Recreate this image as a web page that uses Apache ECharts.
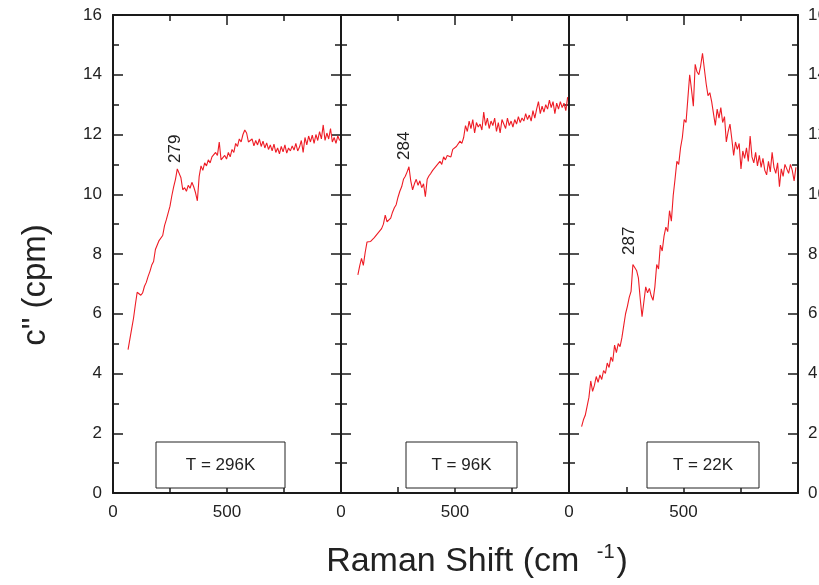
<!DOCTYPE html>
<html><head><meta charset="utf-8">
<script src="https://cdn.jsdelivr.net/npm/echarts@6/dist/echarts.min.js"></script>
<style>html,body{margin:0;padding:0;background:#fff}#c{width:819px;height:585px}</style>
</head><body><div id="c"></div>
<script>
// ---- data ----
const panelTitles = ['T = 296K', 'T = 96K', 'T = 22K'];

const x296Start = 66, x296Step = 8;
const y296 = [
  4.80,5.15,5.50,5.85,6.30,6.72,6.68,6.62,6.70,6.92,
  7.05,7.25,7.42,7.63,7.75,8.15,8.10,8.45,8.40,8.62,
  8.95,9.15,9.20,9.60,9.95,10.25,10.50,10.85,10.88,10.55,
  10.15,10.22,10.10,10.30,10.20,10.40,10.25,10.05,9.78,10.60,
  10.95,10.80,11.05,10.95,11.15,11.05,11.25,11.20,11.40,11.30,
  11.75,11.15,11.20,11.30,11.18,11.40,11.25,11.50,11.40,11.70,
  11.60,11.85,11.75,12.00,12.15,12.05,11.75,11.70,11.85,11.62,
  11.80,11.65,11.85,11.60,11.78,11.55,11.72,11.50,11.65,11.45,
  11.68,11.40,11.55,11.35,11.60,11.42,11.65,11.38,11.55,11.45,
  11.62,11.48,11.70,11.45,11.58,11.80,11.40,11.90,11.65,11.95,
  11.75,11.98,11.70,12.00,11.80,12.10,11.85,12.32,11.80,12.05,
  11.85,12.20,11.75,11.90,11.70,11.95,11.80
];

const x96Start = 74, x96Step = 8;
const y96 = [
  7.30,7.60,7.85,7.62,8.05,8.40,8.38,8.42,8.45,8.55,
  8.52,8.70,8.65,8.85,9.00,9.30,9.08,9.12,9.20,9.40,
  9.55,9.65,9.90,10.10,10.25,10.50,10.60,10.75,10.92,10.45,
  10.15,10.35,10.50,10.30,10.45,10.22,10.35,9.92,10.50,10.62,
  10.70,10.80,10.75,10.95,10.90,11.10,11.00,11.25,11.15,11.30,
  11.35,11.25,11.50,11.45,11.60,11.55,11.78,11.70,11.90,12.30,
  12.10,12.45,12.20,12.50,12.05,12.40,12.25,12.35,12.15,12.75,
  12.30,12.55,12.20,12.45,12.30,12.55,12.10,12.40,12.05,12.50,
  12.35,12.20,12.55,12.30,12.45,12.25,12.50,12.35,12.60,12.40,
  12.55,12.45,12.70,12.50,12.65,12.45,12.80,12.55,12.85,13.10,
  12.70,12.95,12.75,13.00,12.85,13.15,12.90,13.10,12.70,13.05,
  12.85,13.10,12.90,13.05,12.80,13.25
];

const x22Start = 55, x22Step = 8;
const y22 = [
  2.22,2.45,2.60,2.90,3.20,3.75,3.40,3.60,3.90,3.70,
  3.95,3.80,4.10,4.00,4.35,4.20,4.55,4.40,4.95,4.70,
  5.00,4.90,5.20,5.60,6.00,6.25,6.55,6.75,7.65,7.70,
  7.45,7.20,6.50,5.90,6.40,6.90,6.70,6.85,6.60,6.45,
  6.90,7.65,7.50,8.30,8.10,8.60,8.90,8.75,9.45,9.10,
  9.95,10.50,11.10,11.00,11.55,11.90,12.50,12.40,13.20,14.00,
  13.50,12.95,14.35,14.10,14.00,14.30,14.72,14.20,13.70,13.30,
  13.40,13.10,12.70,12.30,12.85,12.55,12.90,12.40,12.60,11.75,
  12.10,12.35,11.85,11.30,11.75,11.50,11.70,10.85,11.45,11.20,
  11.55,11.10,11.95,11.25,11.05,11.40,10.95,11.30,10.90,11.20,
  10.80,10.65,11.10,10.75,11.40,10.90,10.70,11.05,10.25,10.85,
  10.60,11.00,11.05,10.70,11.00,10.80,10.45,10.90
];

const peakLabels = ['279', '284', '287'];
const peakX = [272, 278, 263];
const peakY = [11.05, 11.15, 7.97];

const xTickLabels = [0, 500];
const yTickLabels = [0, 2, 4, 6, 8, 10, 12, 14, 16];

// ---- layout ----
const FONT = 'Liberation Sans, Arial, Helvetica, sans-serif';
const AX = '#1a1a1a';
const RED = '#ee1c25';
const grids = [
  {left: 113, width: 228},
  {left: 341, width: 228},
  {left: 569, width: 229}
];
const TOP = 15, HEIGHT = 478;
const boxes = [[156, 285], [406, 517], [647, 759]];

const seriesY = [y296, y96, y22];
const seriesStart = [x296Start, x96Start, x22Start];
const seriesStep = [x296Step, x96Step, x22Step];

const chart = echarts.init(document.getElementById('c'), null, {renderer: 'canvas'});

const xAxes = [], yAxes = [], series = [];
grids.forEach((g, i) => {
  const common = {
    gridIndex: i, type: 'value', min: 0, max: 1000, interval: 500,
    axisLine: {show: true, onZero: false, lineStyle: {color: AX, width: 2}},
    axisTick: {show: true, inside: true, length: 10, lineStyle: {color: AX, width: 1.5}},
    minorTick: {show: true, splitNumber: 2, length: 6, lineStyle: {color: AX, width: 1.5}},
    splitLine: {show: false}
  };
  xAxes.push(Object.assign({}, common, {
    position: 'bottom',
    axisLabel: {show: true, fontSize: 17, fontFamily: FONT, color: '#222', margin: 11,
      formatter: v => xTickLabels.indexOf(v) >= 0 ? String(v) : ''}
  }));
  xAxes.push(Object.assign({}, common, {position: 'top', axisLabel: {show: false}}));
  const ycommon = {
    gridIndex: i, type: 'value', min: 0, max: 16, interval: 2,
    axisLine: {show: true, onZero: false, lineStyle: {color: AX, width: 2}},
    axisTick: {show: true, inside: true, length: 10, lineStyle: {color: AX, width: 1.5}},
    minorTick: {show: true, splitNumber: 2, length: 6, lineStyle: {color: AX, width: 1.5}},
    splitLine: {show: false}
  };
  yAxes.push(Object.assign({}, ycommon, {
    position: 'left',
    axisLabel: {show: i === 0, fontSize: 17, fontFamily: FONT, color: '#222', margin: 11,
      formatter: v => yTickLabels.indexOf(v) >= 0 ? String(v) : ''}
  }));
  yAxes.push(Object.assign({}, ycommon, {
    position: 'right',
    axisLabel: {show: i === 2, fontSize: 17, fontFamily: FONT, color: '#222', margin: 10,
      formatter: v => yTickLabels.indexOf(v) >= 0 ? String(v) : ''}
  }));
  series.push({
    type: 'line', xAxisIndex: i * 2, yAxisIndex: i * 2, showSymbol: false, symbol: 'none',
    silent: true, animation: false,
    lineStyle: {color: RED, width: 1.1},
    data: seriesY[i].map((v, k) => [seriesStart[i] + k * seriesStep[i], v])
  });
});

chart.setOption({
  animation: false,
  backgroundColor: '#fff',
  grid: grids.map(g => ({left: g.left, width: g.width, top: TOP, height: HEIGHT,
    containLabel: false, outerBoundsMode: 'none'})),
  xAxis: xAxes,
  yAxis: yAxes,
  series: series
});

const graphics = [];
// axis titles
graphics.push({
  type: 'text', x: 36, y: 285, rotation: Math.PI / 2,
  style: {text: 'c" (cpm)', fontSize: 33, fontFamily: FONT, fill: '#222', align: 'center', verticalAlign: 'middle'}
});
graphics.push({
  type: 'text', x: 477, y: 562,
  style: {
    text: '{a|Raman Shift (cm }{b|-1}{a|)}', fontFamily: FONT, fill: '#222', align: 'center', verticalAlign: 'middle',
    rich: {
      a: {fontSize: 34, fontFamily: FONT, fill: '#222'},
      b: {fontSize: 20, fontFamily: FONT, fill: '#222', padding: [0, 2, 20, 8]}
    }
  }
});
// temperature boxes
boxes.forEach((b, i) => {
  graphics.push({
    type: 'rect', shape: {x: b[0], y: 442, width: b[1] - b[0], height: 46},
    style: {fill: '#fff', stroke: '#222', lineWidth: 1}, z: 10
  });
  graphics.push({
    type: 'text', x: (b[0] + b[1]) / 2, y: 465, z: 11,
    style: {text: panelTitles[i], fontSize: 17, fontFamily: FONT, fill: '#222', align: 'center', verticalAlign: 'middle'}
  });
});
// peak labels
peakLabels.forEach((t, i) => {
  const p = chart.convertToPixel({xAxisIndex: i * 2, yAxisIndex: i * 2}, [peakX[i], peakY[i]]);
  graphics.push({
    type: 'text', x: p[0], y: p[1], rotation: Math.PI / 2,
    style: {text: t, fontSize: 17, fontFamily: FONT, fill: '#222', align: 'left', verticalAlign: 'middle'}
  });
});
chart.setOption({graphic: graphics});
</script></body></html>
